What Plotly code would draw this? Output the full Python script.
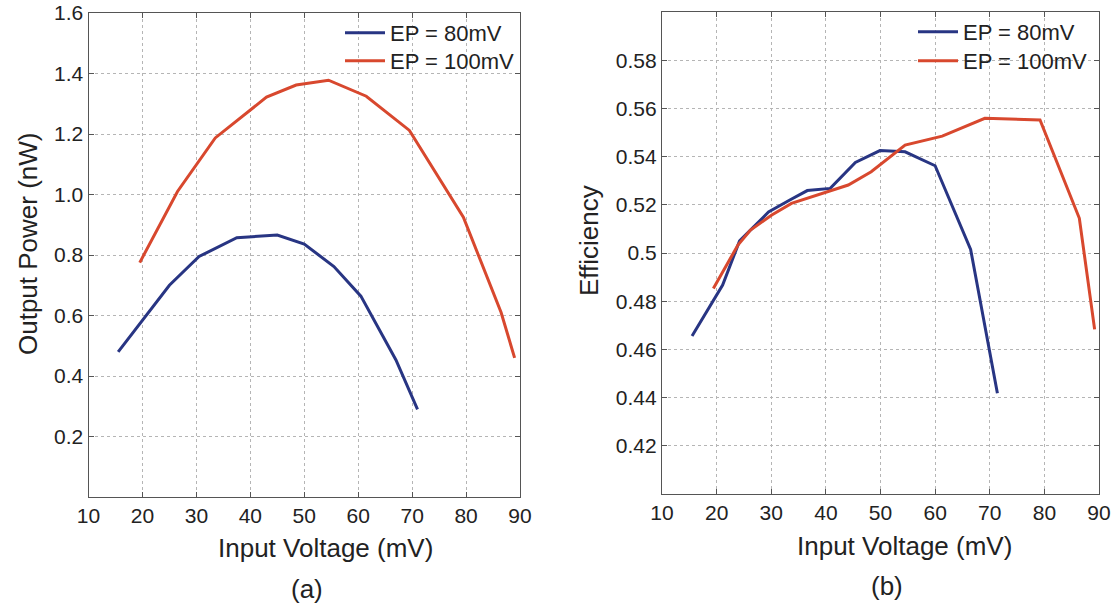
import plotly.graph_objects as go

# ---------------- data ----------------
series_names = ["EP = 80mV", "EP = 100mV"]

a_blue_x = [15.5, 20.5, 25.0, 30.5, 37.5, 45.0, 50.0, 55.5, 60.5, 67.0, 71.0]
a_blue_y = [0.48, 0.595, 0.70, 0.795, 0.857, 0.866, 0.836, 0.762, 0.664, 0.453, 0.29]

a_red_x = [19.5, 26.5, 33.5, 38.0, 43.0, 48.5, 54.5, 61.5, 69.5, 79.5, 86.5, 89.0]
a_red_y = [0.775, 1.01, 1.187, 1.25, 1.322, 1.362, 1.378, 1.325, 1.212, 0.925, 0.61, 0.46]

b_blue_x = [15.5, 19.4, 21.1, 24.2, 26.2, 29.5, 33.4, 36.6, 40.8, 45.4, 49.9, 54.5, 60.0, 66.5, 71.4]
b_blue_y = [0.4656, 0.4805, 0.4867, 0.505, 0.5095, 0.517, 0.522, 0.5259, 0.5268, 0.5376,
            0.5425, 0.542, 0.5362, 0.5015, 0.4418]

b_red_x = [19.4, 23.9, 26.2, 30.1, 33.7, 36.6, 41.2, 44.1, 48.3, 54.5, 61.3, 69.1, 79.2, 86.4, 89.2]
b_red_y = [0.4853, 0.5033, 0.5095, 0.5158, 0.5206, 0.5227, 0.5261, 0.5282, 0.5337, 0.5448,
           0.5485, 0.5559, 0.5552, 0.5144, 0.4683]

x_ticks = [10, 20, 30, 40, 50, 60, 70, 80, 90]
a_y_ticks = [0.2, 0.4, 0.6, 0.8, 1.0, 1.2, 1.4, 1.6]
a_y_labels = ["0.2", "0.4", "0.6", "0.8", "1.0", "1.2", "1.4", "1.6"]
b_y_ticks = [0.42, 0.44, 0.46, 0.48, 0.50, 0.52, 0.54, 0.56, 0.58]
b_y_labels = ["0.42", "0.44", "0.46", "0.48", "0.5", "0.52", "0.54", "0.56", "0.58"]

BLUE = "#283583"
RED = "#d8482e"
FONT = "Liberation Sans, Arial, sans-serif"
TXT = "#222222"
W, H = 1117, 607

fig = go.Figure()

fig.add_trace(go.Scatter(x=a_blue_x, y=a_blue_y, mode="lines", name=series_names[0],
                         line=dict(color=BLUE, width=3), xaxis="x", yaxis="y", legend="legend"))
fig.add_trace(go.Scatter(x=a_red_x, y=a_red_y, mode="lines", name=series_names[1],
                         line=dict(color=RED, width=3), xaxis="x", yaxis="y", legend="legend2"))
fig.add_trace(go.Scatter(x=b_blue_x, y=b_blue_y, mode="lines", name=series_names[0],
                         line=dict(color=BLUE, width=3), xaxis="x2", yaxis="y2", legend="legend3"))
fig.add_trace(go.Scatter(x=b_red_x, y=b_red_y, mode="lines", name=series_names[1],
                         line=dict(color=RED, width=3), xaxis="x2", yaxis="y2", legend="legend4"))


def px_x(p):
    return p / W


def px_y(p):
    return 1 - p / H


axis_common = dict(
    showline=True, linecolor="#555555", linewidth=1.2, mirror="ticks",
    ticks="inside", ticklen=5, tickcolor="#555555",
    showgrid=True, gridcolor="#b5b5b5", griddash="dot", gridwidth=1,
    zeroline=False, automargin=False,
    tickfont=dict(family=FONT, size=21, color=TXT),
)

legend_common = dict(xanchor="left", yanchor="top", bgcolor="rgba(0,0,0,0)", borderwidth=0,
                     font=dict(family=FONT, size=22, color=TXT), tracegroupgap=0,
                     itemwidth=40)

fig.update_layout(
    width=W, height=H,
    margin=dict(l=0, r=0, t=0, b=0, autoexpand=False),
    paper_bgcolor="white", plot_bgcolor="white",
    font=dict(family=FONT, color=TXT),
    xaxis=dict(domain=[px_x(88.5), px_x(520)], range=[10, 90], tickvals=x_ticks,
               anchor="y", **axis_common),
    yaxis=dict(domain=[px_y(497), px_y(13)], range=[0, 1.6001], tickvals=a_y_ticks,
               ticktext=a_y_labels, anchor="x", **axis_common),
    xaxis2=dict(domain=[px_x(662), px_x(1099)], range=[10, 90], tickvals=x_ticks,
                anchor="y2", **axis_common),
    yaxis2=dict(domain=[px_y(494), px_y(12)], range=[0.40, 0.60], tickvals=b_y_ticks,
                ticktext=b_y_labels, anchor="x2", **axis_common),
    legend=dict(x=px_x(340), y=px_y(12), **legend_common),
    legend2=dict(x=px_x(340), y=px_y(40), **legend_common),
    legend3=dict(x=px_x(913), y=px_y(11), **legend_common),
    legend4=dict(x=px_x(913), y=px_y(40), **legend_common),
    showlegend=True,
)

ann = [
    dict(text="Output Power (nW)", x=28, y=244, textangle=-90),
    dict(text="Input Voltage (mV)", x=325, y=548, textangle=0),
    dict(text="(a)", x=307, y=589, textangle=0),
    dict(text="Efficiency", x=589, y=241, textangle=-90),
    dict(text="Input Voltage (mV)", x=904, y=546, textangle=0),
    dict(text="(b)", x=887, y=586, textangle=0),
]
for a in ann:
    fig.add_annotation(text=a["text"], x=px_x(a["x"]), y=px_y(a["y"]), xref="paper", yref="paper",
                       xanchor="center", yanchor="middle", textangle=a["textangle"],
                       showarrow=False, font=dict(family=FONT, size=26, color=TXT))

fig.write_html("out.html", config={"displayModeBar": False},
               post_script="document.body.style.margin='0';document.body.style.overflow='hidden';")
